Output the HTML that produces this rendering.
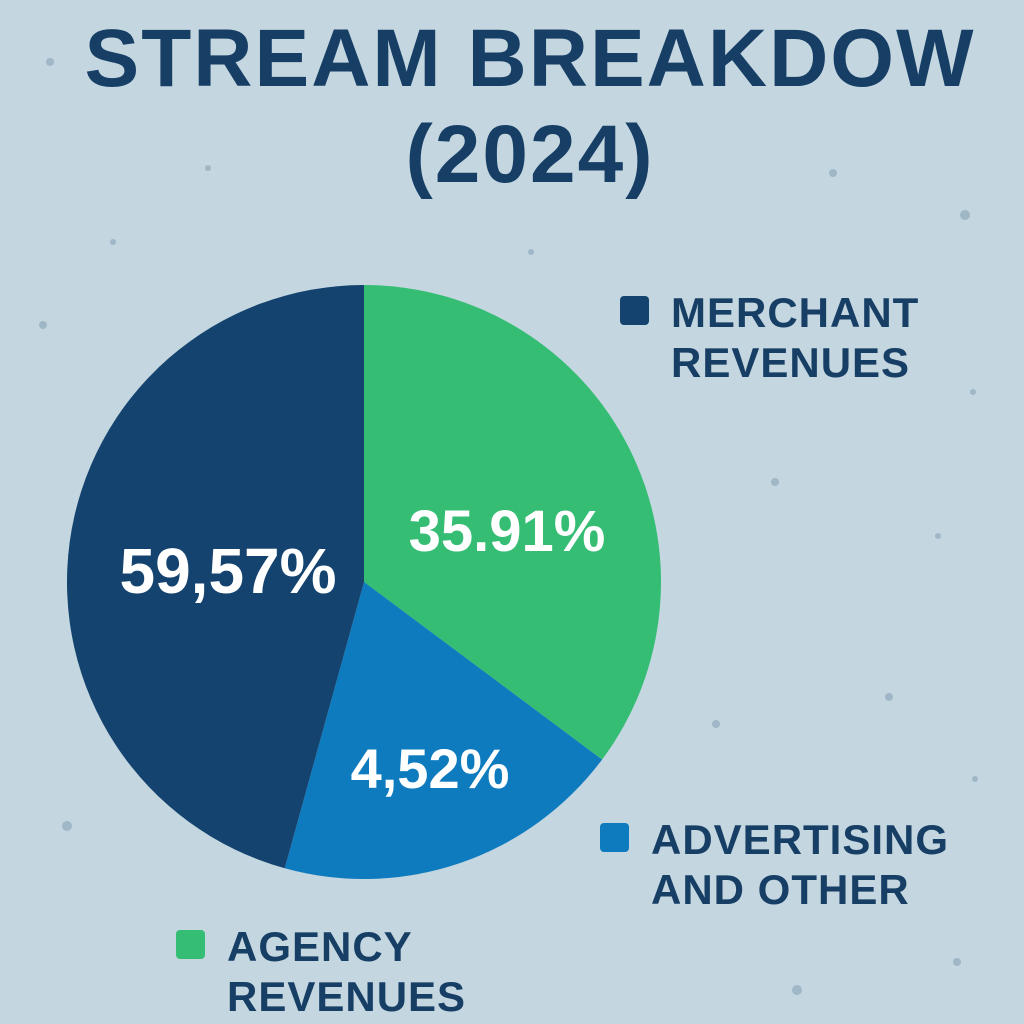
<!DOCTYPE html>
<html><head><meta charset="utf-8"><style>
html,body{margin:0;padding:0}
body{width:1024px;height:1024px;background:#c4d6df;overflow:hidden;position:relative;font-family:"Liberation Sans",sans-serif}
.t{position:absolute;left:0;width:1060px;text-align:center;font-weight:bold;color:#173f66;font-size:82px;letter-spacing:2px}
</style></head><body>
<svg width="1024" height="1024" style="position:absolute;left:0;top:0">
<g fill="#9fb7c6">
<circle cx="50" cy="62" r="4"/><circle cx="208" cy="168" r="3"/><circle cx="113" cy="242" r="3"/><circle cx="43" cy="325" r="4"/><circle cx="965" cy="215" r="5"/><circle cx="833" cy="173" r="4"/><circle cx="531" cy="252" r="3"/><circle cx="973" cy="392" r="3"/><circle cx="775" cy="482" r="4"/><circle cx="938" cy="536" r="3"/><circle cx="889" cy="697" r="4"/><circle cx="716" cy="724" r="4"/><circle cx="67" cy="826" r="5"/><circle cx="975" cy="779" r="3"/><circle cx="797" cy="990" r="5"/><circle cx="957" cy="962" r="4"/>
</g></svg>
<div class="t" style="top:12px">STREAM BREAKDOW</div>
<div class="t" style="top:108px">(2024)</div>
<svg id="pie" width="1024" height="1024" style="position:absolute;left:0;top:0"></svg>
<script>
const categories=["Agency revenues","Advertising and other","Merchant revenues"];
const values=[35.2,19.1,45.7];
const printedLabels=["35.91%","4,52%","59,57%"];
const colors=["#36bd74","#0f7bbf","#14436f"];
const cx=364,cy=582,r=297;
const labelPos=[[507,530,58],[430,768,56],[228,570,64]];
const svg=document.getElementById('pie');
const NS="http://www.w3.org/2000/svg";
const total=values.reduce((a,b)=>a+b,0);
let a0=0;
function pt(a){return [cx+r*Math.sin(a),cy-r*Math.cos(a)];}
values.forEach((v,i)=>{
 const a1=a0+v/total*2*Math.PI;
 const p0=pt(a0),p1=pt(a1);
 const large=(a1-a0)>Math.PI?1:0;
 const path=document.createElementNS(NS,'path');
 path.setAttribute('d',`M${cx},${cy}L${p0[0]},${p0[1]}A${r},${r} 0 ${large} 1 ${p1[0]},${p1[1]}Z`);
 path.setAttribute('fill',colors[i]);
 
 
 svg.appendChild(path);
 a0=a1;
});
printedLabels.forEach((s,i)=>{
 const t=document.createElementNS(NS,'text');
 t.setAttribute('x',labelPos[i][0]);t.setAttribute('y',labelPos[i][1]+labelPos[i][2]*0.36);
 t.setAttribute('text-anchor','middle');t.setAttribute('font-size',labelPos[i][2]);
 t.setAttribute('font-weight','bold');t.setAttribute('fill','#fff');
 t.setAttribute('font-family','Liberation Sans, sans-serif');
 
 
 t.textContent=s;svg.appendChild(t);
});
const legend=[[620,296,"MERCHANT","REVENUES",2],[600,823,"ADVERTISING","AND OTHER",1],[176,930,"AGENCY","REVENUES",0]];
legend.forEach((l,i)=>{
 const g=document.createElementNS(NS,'g');
 
 
 const rc=document.createElementNS(NS,'rect');
 rc.setAttribute('x',l[0]);rc.setAttribute('y',l[1]);rc.setAttribute('width',29);rc.setAttribute('height',29);rc.setAttribute('rx',4);
 rc.setAttribute('fill',colors[l[4]]);
 
 
 g.appendChild(rc);
 [l[2],l[3]].forEach((s,j)=>{
  const t=document.createElementNS(NS,'text');
  t.setAttribute('x',l[0]+51);t.setAttribute('y',l[1]+31+j*50);
  t.setAttribute('font-size',42);t.setAttribute('font-weight','bold');t.setAttribute('fill','#173f66');
  t.setAttribute('letter-spacing','1');
  t.setAttribute('font-family','Liberation Sans, sans-serif');
  
  
  t.textContent=s;g.appendChild(t);
 });
 svg.appendChild(g);
});
</script>
</body></html>
